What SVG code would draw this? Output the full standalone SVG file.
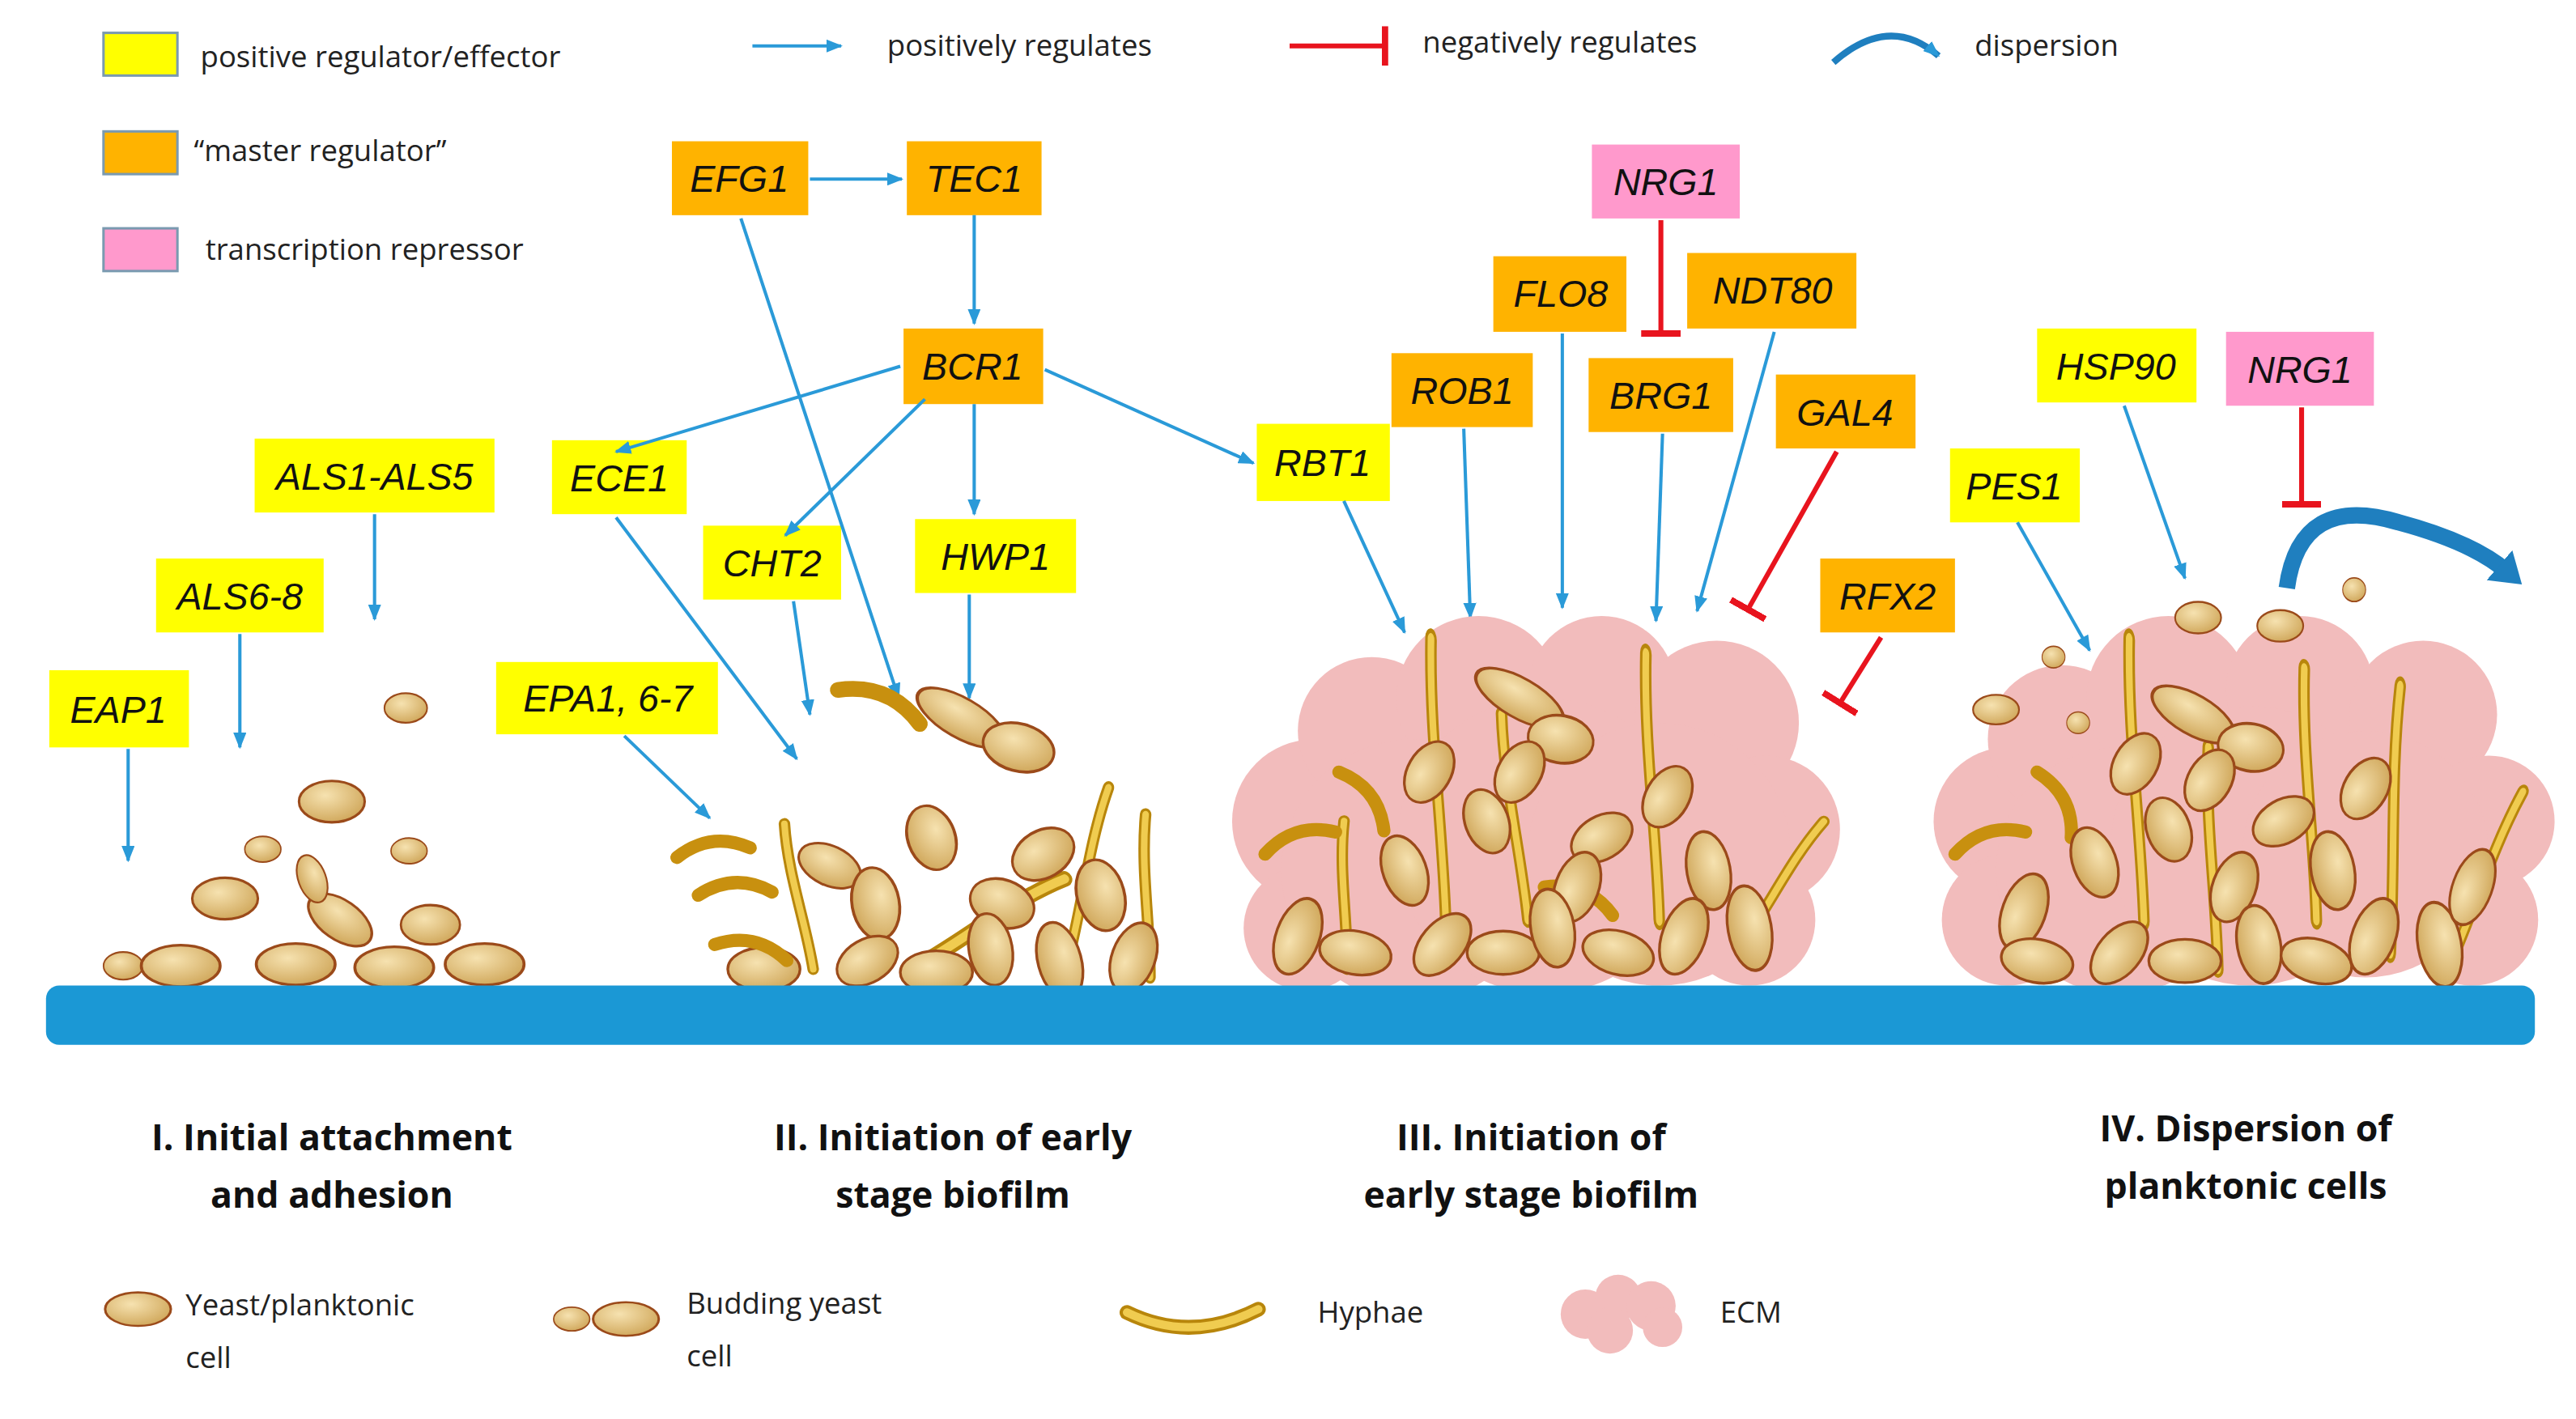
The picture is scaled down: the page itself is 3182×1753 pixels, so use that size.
<svg xmlns="http://www.w3.org/2000/svg" xmlns:xlink="http://www.w3.org/1999/xlink" width="3182" height="1753" viewBox="0 0 3182 1753">
<defs>
<radialGradient id="cg" cx="0.4" cy="0.35" r="0.7"><stop offset="0" stop-color="#f6e2b0"/><stop offset="1" stop-color="#cfa659"/></radialGradient>
<ellipse id="c" cx="0" cy="0" rx="20" ry="12" fill="url(#cg)" stroke="#9b4a1a" stroke-width="1.5"/>
<g id="h"><path d="M0,0 C3,-30 0,-60 6,-90" fill="none" stroke="#b8860b" stroke-width="7" stroke-linecap="round"/><path d="M0,0 C3,-30 0,-60 6,-90" fill="none" stroke="#f0cc50" stroke-width="4" stroke-linecap="round"/></g>
<path id="dh" d="M0,0 C15,-8 30,-8 45,2" fill="none" stroke="#c8900f" stroke-width="8" stroke-linecap="round"/>
<marker id="ab" markerWidth="10" markerHeight="8" refX="9" refY="4" orient="auto" markerUnits="userSpaceOnUse"><path d="M0,0 L10,4 L0,8 Z" fill="#2a9ad8"/></marker>
<marker id="ad" markerWidth="24" markerHeight="24" refX="6" refY="12" orient="auto" markerUnits="userSpaceOnUse"><path d="M0,0 L18,12 L0,24 Z" fill="#1f7fbf"/></marker>
<marker id="tb" markerWidth="4" markerHeight="24" refX="2" refY="12" orient="auto" markerUnits="userSpaceOnUse"><rect x="0" y="0" width="4" height="24" fill="#e8141e"/></marker>
<g id="ecm"><circle cx="0" cy="0" r="1" fill="#f2bcbc"/></g>
</defs>
<style>
.y{fill:#ffff00}.o{fill:#ffb300}.p{fill:#ff99cc}
.g{font-family:"Liberation Sans",Arial,sans-serif;font-style:italic;font-size:23px;fill:#111;text-anchor:middle}
.l{font-family:"Open Sans","Liberation Sans",sans-serif;font-size:18px;fill:#222}
.s{font-family:"Open Sans","Liberation Sans",sans-serif;font-size:22px;font-weight:bold;fill:#111;text-anchor:middle}
.b{stroke:#2a9ad8;stroke-width:2;fill:none;marker-end:url(#ab)}
.r{stroke:#e8141e;stroke-width:3;fill:none;marker-end:url(#tb)}
.e{fill:#f2bcbc}
</style>
<rect width="3182" height="1753" fill="#fff"/>
<g transform="scale(2.0293)">
<g id="legend">
<rect x="63" y="20" width="45" height="26" class="y" stroke="#7a9ab0" stroke-width="1.5"/>
<text x="122" y="41" class="l">positive regulator/effector</text>
<rect x="63" y="80" width="45" height="26" class="o" stroke="#7a9ab0" stroke-width="1.5"/>
<text x="118" y="98" class="l">“master regulator”</text>
<rect x="63" y="139" width="45" height="26" class="p" stroke="#7a9ab0" stroke-width="1.5"/>
<text x="125" y="158" class="l">transcription repressor</text>
<line x1="458" y1="28" x2="512" y2="28" class="b"/>
<text x="540" y="34" class="l">positively regulates</text>
<line x1="785" y1="28" x2="843" y2="28" class="r"/>
<text x="866" y="32" class="l">negatively regulates</text>
<path d="M1116,38 Q1150,8 1180,34" fill="none" stroke="#1f7fbf" stroke-width="4" marker-end="url(#ab)"/>
<text x="1202" y="34" class="l">dispersion</text>
</g>
<g id="nodes">
<g id="EFG1"><rect x="409" y="86" width="83" height="45" class="o"/><text x="450" y="117" class="g">EFG1</text></g>
<g id="TEC1"><rect x="552" y="86" width="82" height="45" class="o"/><text x="593" y="117" class="g">TEC1</text></g>
<g id="BCR1"><rect x="550" y="200" width="85" height="46" class="o"/><text x="592" y="231" class="g">BCR1</text></g>
<g id="NRG1a"><rect x="969" y="88" width="90" height="45" class="p"/><text x="1014" y="119" class="g">NRG1</text></g>
<g id="FLO8"><rect x="909" y="156" width="81" height="46" class="o"/><text x="950" y="187" class="g">FLO8</text></g>
<g id="NDT80"><rect x="1027" y="154" width="103" height="46" class="o"/><text x="1079" y="185" class="g">NDT80</text></g>
<g id="ROB1"><rect x="847" y="215" width="86" height="45" class="o"/><text x="890" y="246" class="g">ROB1</text></g>
<g id="BRG1"><rect x="967" y="218" width="88" height="45" class="o"/><text x="1011" y="249" class="g">BRG1</text></g>
<g id="GAL4"><rect x="1081" y="228" width="85" height="45" class="o"/><text x="1123" y="259" class="g">GAL4</text></g>
<g id="RBT1"><rect x="765" y="258" width="81" height="47" class="y"/><text x="805" y="290" class="g">RBT1</text></g>
<g id="RFX2"><rect x="1108" y="340" width="82" height="45" class="o"/><text x="1149" y="371" class="g">RFX2</text></g>
<g id="HSP90"><rect x="1240" y="200" width="97" height="45" class="y"/><text x="1288" y="231" class="g">HSP90</text></g>
<g id="NRG1b"><rect x="1355" y="202" width="90" height="45" class="p"/><text x="1400" y="233" class="g">NRG1</text></g>
<g id="PES1"><rect x="1187" y="273" width="79" height="45" class="y"/><text x="1226" y="304" class="g">PES1</text></g>
<g id="ALS1-5"><rect x="155" y="267" width="146" height="45" class="y"/><text x="228" y="298" class="g">ALS1-ALS5</text></g>
<g id="ECE1"><rect x="336" y="268" width="82" height="45" class="y"/><text x="377" y="299" class="g">ECE1</text></g>
<g id="CHT2"><rect x="428" y="320" width="84" height="45" class="y"/><text x="470" y="351" class="g">CHT2</text></g>
<g id="HWP1"><rect x="557" y="316" width="98" height="45" class="y"/><text x="606" y="347" class="g">HWP1</text></g>
<g id="ALS6-8"><rect x="95" y="340" width="102" height="45" class="y"/><text x="146" y="371" class="g">ALS6-8</text></g>
<g id="EAP1"><rect x="30" y="408" width="85" height="47" class="y"/><text x="72" y="440" class="g">EAP1</text></g>
<g id="EPA1"><rect x="302" y="403" width="135" height="44" class="y"/><text x="370" y="433" class="g">EPA1, 6-7</text></g>
</g>
<g id="connectors">
<line x1="493" y1="109" x2="549" y2="109" class="b"/>
<line x1="593" y1="131" x2="593" y2="197" class="b"/>
<line x1="451" y1="133" x2="547" y2="425" class="b"/>
<line x1="548" y1="223" x2="375" y2="275" class="b"/>
<line x1="563" y1="243" x2="478" y2="326" class="b"/>
<line x1="593" y1="246" x2="593" y2="313" class="b"/>
<line x1="636" y1="225" x2="763" y2="282" class="b"/>
<line x1="228" y1="313" x2="228" y2="377" class="b"/>
<line x1="146" y1="386" x2="146" y2="455" class="b"/>
<line x1="78" y1="456" x2="78" y2="524" class="b"/>
<line x1="375" y1="315" x2="485" y2="462" class="b"/>
<line x1="483" y1="366" x2="493" y2="435" class="b"/>
<line x1="590" y1="362" x2="590" y2="425" class="b"/>
<line x1="380" y1="448" x2="432" y2="498" class="b"/>
<line x1="818" y1="305" x2="855" y2="385" class="b"/>
<line x1="891" y1="261" x2="895" y2="376" class="b"/>
<line x1="951" y1="203" x2="951" y2="370" class="b"/>
<line x1="1012" y1="264" x2="1008" y2="378" class="b"/>
<line x1="1080" y1="202" x2="1033" y2="372" class="b"/>
<line x1="1228" y1="318" x2="1272" y2="396" class="b"/>
<line x1="1293" y1="247" x2="1330" y2="352" class="b"/>
<line x1="1011" y1="134" x2="1011" y2="203" class="r"/>
<line x1="1118" y1="275" x2="1064" y2="371" class="r"/>
<line x1="1145" y1="388" x2="1120" y2="428" class="r"/>
<line x1="1401" y1="248" x2="1401" y2="307" class="r"/>
<path d="M1392,358 Q1400,300 1460,318 Q1505,330 1526,348" fill="none" stroke="#1f7fbf" stroke-width="10" marker-end="url(#ad)"/>
</g>
<g id="ecm3" class="e">
<circle cx="800" cy="500" r="50"/><circle cx="835" cy="445" r="45"/><circle cx="900" cy="425" r="50"/><circle cx="975" cy="420" r="45"/><circle cx="1045" cy="440" r="50"/><circle cx="1075" cy="505" r="45"/><circle cx="1065" cy="560" r="40"/><circle cx="795" cy="565" r="38"/><circle cx="860" cy="530" r="80"/><circle cx="940" cy="515" r="90"/><circle cx="1010" cy="520" r="80"/>
</g>
<g id="ecm4" class="e">
<circle cx="1222" cy="500" r="45"/><circle cx="1255" cy="450" r="45"/><circle cx="1320" cy="425" r="50"/><circle cx="1400" cy="420" r="45"/><circle cx="1475" cy="435" r="45"/><circle cx="1515" cy="500" r="40"/><circle cx="1505" cy="560" r="40"/><circle cx="1222" cy="560" r="40"/><circle cx="1290" cy="530" r="75"/><circle cx="1370" cy="515" r="85"/><circle cx="1440" cy="520" r="75"/>
</g>
<g id="stage1">
<use href="#c" transform="translate(75,588) scale(0.6,0.7)"/>
<use href="#c" transform="translate(110,588) scale(1.2,1.05)"/>
<use href="#c" transform="translate(180,587) scale(1.2,1.05)"/>
<use href="#c" transform="translate(240,589) scale(1.2,1.05)"/>
<use href="#c" transform="translate(295,587) scale(1.2,1.05)"/>
<use href="#c" transform="translate(137,547) scale(1,1.05)"/>
<use href="#c" transform="translate(207,560) rotate(35) scale(1.1,1)"/>
<use href="#c" transform="translate(262,563) scale(0.9,1)"/>
<use href="#c" transform="translate(190,535) rotate(70) scale(0.75,0.7)"/>
<use href="#c" transform="translate(202,488) scale(1,1.05)"/>
<use href="#c" transform="translate(160,517) scale(0.55,0.65)"/>
<use href="#c" transform="translate(249,518) scale(0.55,0.65)"/>
<use href="#c" transform="translate(247,431) scale(0.65,0.75)"/>
</g>
<g id="stage2">
<use href="#dh" transform="translate(412,522) rotate(-10)"/>
<use href="#dh" transform="translate(425,545) rotate(-5)"/>
<use href="#dh" transform="translate(510,420) rotate(20) scale(1.2)"/>
<use href="#h" transform="translate(555,590) rotate(55) scale(1.4,1.2)"/>
<use href="#h" transform="translate(495,590) rotate(-15)"/>
<use href="#h" transform="translate(650,585) rotate(10) scale(1,1.2)"/>
<use href="#h" transform="translate(700,595) rotate(-5) scale(1,1.1)"/>
<use href="#c" transform="translate(585,437) rotate(30) scale(1.5,1)"/>
<use href="#c" transform="translate(620,455) rotate(15) scale(1.1,1.2)"/>
<use href="#c" transform="translate(505,527) rotate(25)"/>
<use href="#c" transform="translate(567,510) rotate(70) scale(1,1.2)"/>
<use href="#c" transform="translate(635,520) rotate(-30) scale(1,1.2)"/>
<use href="#c" transform="translate(610,550) rotate(20) scale(1,1.2)"/>
<use href="#c" transform="translate(670,545) rotate(75) scale(1.1,1.2)"/>
<use href="#c" transform="translate(533,550) rotate(80) scale(1.1,1.2)"/>
<use href="#c" transform="translate(465,590) scale(1.1,1.1)"/>
<use href="#c" transform="translate(528,585) rotate(-30) scale(1,1.1)"/>
<use href="#c" transform="translate(570,592) scale(1.1,1.1)"/>
<use href="#c" transform="translate(603,578) rotate(80) scale(1.1,1.1)"/>
<use href="#c" transform="translate(645,585) rotate(75) scale(1.2,1.1)"/>
<use href="#c" transform="translate(690,583) rotate(-70) scale(1.1,1.1)"/>
<use href="#dh" transform="translate(435,575) rotate(10)"/>
</g>
<g id="stage3">
<use href="#h" transform="translate(880,560) rotate(-5) scale(1,1.9)"/>
<use href="#h" transform="translate(1010,560) rotate(-5) scale(1,1.8)"/>
<use href="#h" transform="translate(930,560) rotate(-10) scale(1,1.4)"/>
<use href="#h" transform="translate(1060,575) rotate(30) scale(1,1)"/>
<use href="#h" transform="translate(820,590) rotate(-5) scale(1,1)"/>
<use href="#dh" transform="translate(770,520) rotate(-20)"/>
<use href="#dh" transform="translate(815,470) rotate(50)"/>
<use href="#dh" transform="translate(940,540) rotate(20)"/>
<use href="#c" transform="translate(925,425) rotate(30) scale(1.5,1)"/>
<use href="#c" transform="translate(950,450) rotate(10) scale(1,1.2)"/>
<use href="#c" transform="translate(870,470) rotate(-60) scale(1,1.1)"/>
<use href="#c" transform="translate(925,470) rotate(-60) scale(1,1.1)"/>
<use href="#c" transform="translate(1015,485) rotate(-60) scale(1,1.1)"/>
<use href="#c" transform="translate(905,500) rotate(70) scale(1,1.1)"/>
<use href="#c" transform="translate(975,510) rotate(-30) scale(1,1.1)"/>
<use href="#c" transform="translate(855,530) rotate(70) scale(1.1,1.1)"/>
<use href="#c" transform="translate(960,540) rotate(-70) scale(1.1,1.1)"/>
<use href="#c" transform="translate(1040,530) rotate(80) scale(1.2,1.1)"/>
<use href="#c" transform="translate(790,570) rotate(-70) scale(1.2,1.1)"/>
<use href="#c" transform="translate(825,580) rotate(10) scale(1.1,1.1)"/>
<use href="#c" transform="translate(878,575) rotate(-50) scale(1.1,1.1)"/>
<use href="#c" transform="translate(915,580) rotate(0) scale(1.1,1.1)"/>
<use href="#c" transform="translate(945,565) rotate(80) scale(1.2,1.1)"/>
<use href="#c" transform="translate(985,580) rotate(15) scale(1.1,1.1)"/>
<use href="#c" transform="translate(1025,570) rotate(-70) scale(1.2,1.1)"/>
<use href="#c" transform="translate(1065,565) rotate(80) scale(1.3,1.1)"/>
</g>
<g id="stage4">
<use href="#h" transform="translate(1305,560) rotate(-5) scale(1,1.9)"/>
<use href="#h" transform="translate(1410,560) rotate(-5) scale(1,1.7)"/>
<use href="#h" transform="translate(1455,580) rotate(0) scale(1,1.8)"/>
<use href="#h" transform="translate(1490,590) rotate(20) scale(1,1.3)"/>
<use href="#h" transform="translate(1350,590) rotate(-5) scale(1,1.5)"/>
<use href="#dh" transform="translate(1190,520) rotate(-20)"/>
<use href="#dh" transform="translate(1240,470) rotate(60)"/>
<use href="#c" transform="translate(1215,432) scale(0.7,0.75)"/>
<use href="#c" transform="translate(1250,400) scale(0.35,0.55)"/>
<use href="#c" transform="translate(1265,440) scale(0.35,0.55)"/>
<use href="#c" transform="translate(1338,376) scale(0.7,0.8)"/>
<use href="#c" transform="translate(1388,381) scale(0.7,0.8)"/>
<use href="#c" transform="translate(1433,359) scale(0.35,0.6)"/>
<use href="#c" transform="translate(1335,435) rotate(30) scale(1.4,1)"/>
<use href="#c" transform="translate(1370,455) rotate(10) scale(1,1.2)"/>
<use href="#c" transform="translate(1300,465) rotate(-60) scale(1,1.1)"/>
<use href="#c" transform="translate(1345,475) rotate(-60) scale(1,1.1)"/>
<use href="#c" transform="translate(1440,480) rotate(-60) scale(1,1.1)"/>
<use href="#c" transform="translate(1320,505) rotate(70) scale(1,1.1)"/>
<use href="#c" transform="translate(1390,500) rotate(-30) scale(1,1.1)"/>
<use href="#c" transform="translate(1275,525) rotate(70) scale(1.1,1.1)"/>
<use href="#c" transform="translate(1360,540) rotate(-70) scale(1.1,1.1)"/>
<use href="#c" transform="translate(1420,530) rotate(80) scale(1.2,1.1)"/>
<use href="#c" transform="translate(1232,555) rotate(-70) scale(1.2,1.1)"/>
<use href="#c" transform="translate(1240,585) rotate(10) scale(1.1,1.1)"/>
<use href="#c" transform="translate(1290,580) rotate(-50) scale(1.1,1.1)"/>
<use href="#c" transform="translate(1330,585) rotate(0) scale(1.1,1.1)"/>
<use href="#c" transform="translate(1375,575) rotate(80) scale(1.2,1.1)"/>
<use href="#c" transform="translate(1410,585) rotate(15) scale(1.1,1.1)"/>
<use href="#c" transform="translate(1445,570) rotate(-70) scale(1.2,1.1)"/>
<use href="#c" transform="translate(1485,575) rotate(80) scale(1.3,1.1)"/>
<use href="#c" transform="translate(1505,540) rotate(-70) scale(1.2,1)"/>
</g>
<rect id="substrate" x="28" y="600" width="1515" height="36" rx="8" fill="#1b98d5"/>
<g id="stages">
<text x="202" y="700" class="s">I. Initial attachment</text><text x="202" y="735" class="s">and adhesion</text>
<text x="580" y="700" class="s">II. Initiation of early</text><text x="580" y="735" class="s">stage biofilm</text>
<text x="932" y="700" class="s">III. Initiation of</text><text x="932" y="735" class="s">early stage biofilm</text>
<text x="1367" y="695" class="s">IV. Dispersion of</text><text x="1367" y="730" class="s">planktonic cells</text>
</g>
<g id="bottom-legend">
<use href="#c" transform="translate(84,797) scale(1,0.85)"/>
<text x="113" y="801" class="l" font-size="20">Yeast/planktonic</text><text x="113" y="833" class="l">cell</text>
<use href="#c" transform="translate(348,803) scale(0.55,0.6)"/>
<use href="#c" transform="translate(381,803) scale(1,0.85)"/>
<text x="418" y="800" class="l">Budding yeast</text><text x="418" y="832" class="l">cell</text>
<path d="M686,799 Q725,818 766,797" fill="none" stroke="#b8860b" stroke-width="9" stroke-linecap="round"/>
<path d="M686,799 Q725,818 766,797" fill="none" stroke="#f0cc50" stroke-width="5" stroke-linecap="round"/>
<text x="802" y="805" class="l">Hyphae</text>
<g class="e"><circle cx="965" cy="800" r="15"/><circle cx="985" cy="790" r="14"/><circle cx="1005" cy="795" r="15"/><circle cx="1012" cy="808" r="12"/><circle cx="980" cy="810" r="14"/></g>
<text x="1047" y="805" class="l">ECM</text>
</g>
</g>
</svg>
